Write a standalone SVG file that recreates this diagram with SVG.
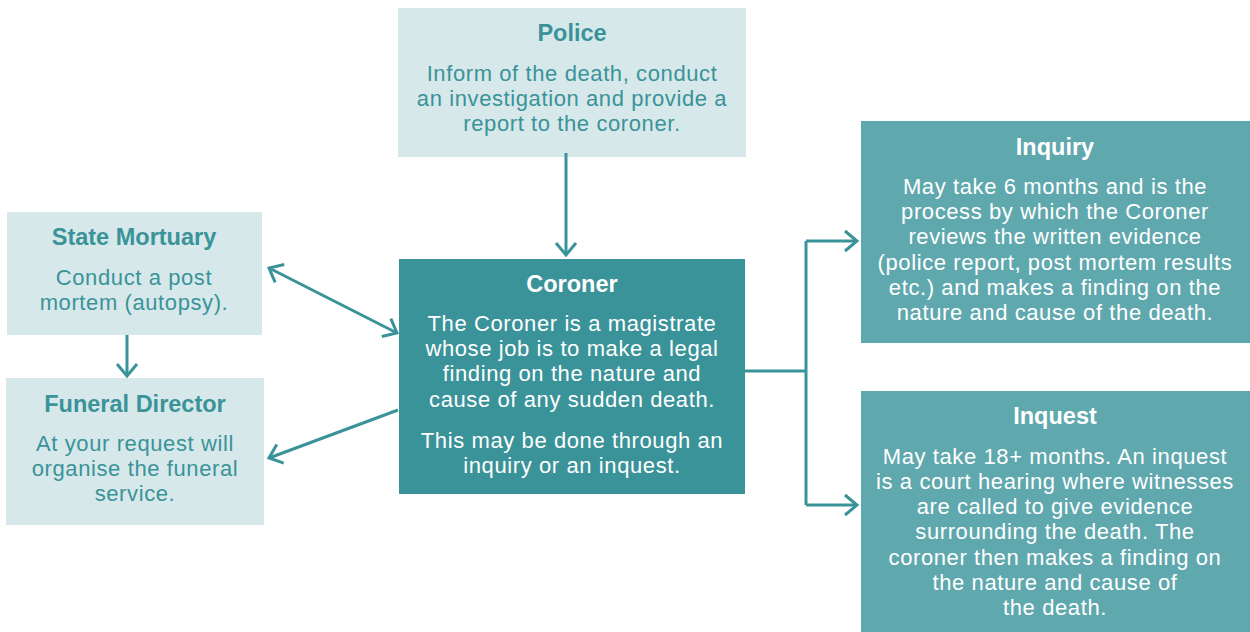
<svg xmlns="http://www.w3.org/2000/svg" width="1250" height="632" viewBox="0 0 1250 632">
<style>
.light{fill:#d6e8ea}
.dark{fill:#3a9399}
.mid{fill:#5fa8ae}
text{font-family:"Liberation Sans",Arial,sans-serif;text-anchor:middle}
.t{font-size:23.5px;font-weight:bold}
.b{font-size:22px;letter-spacing:0.6px}
.lt{fill:#3a9399}
.wt{fill:#ffffff}
.c{fill:none;stroke:#3a9399;stroke-width:3}
</style>
<defs>
<marker id="ah" viewBox="0 0 16 24" refX="14" refY="12" markerWidth="16" markerHeight="24" markerUnits="userSpaceOnUse" orient="auto-start-reverse">
<path d="M2,2 L14,12 L2,22" fill="none" stroke="#3a9399" stroke-width="3"/>
</marker>
</defs>
<g id="police">
<rect class="light" x="398" y="8" width="348" height="149"/>
<text class="t lt" x="572" y="41">Police</text>
<text class="b lt" x="572" y="81">Inform of the death, conduct</text>
<text class="b lt" x="572" y="106">an investigation and provide a</text>
<text class="b lt" x="572" y="131">report to the coroner.</text>
</g>
<g id="mortuary">
<rect class="light" x="7" y="212" width="255" height="123"/>
<text class="t lt" x="134" y="245">State Mortuary</text>
<text class="b lt" x="134" y="285">Conduct a post</text>
<text class="b lt" x="134" y="310">mortem (autopsy).</text>
</g>
<g id="funeral">
<rect class="light" x="6" y="378" width="258" height="147"/>
<text class="t lt" x="135" y="412">Funeral Director</text>
<text class="b lt" x="135" y="451">At your request will</text>
<text class="b lt" x="135" y="476">organise the funeral</text>
<text class="b lt" x="135" y="501">service.</text>
</g>
<g id="coroner">
<rect class="dark" x="399" y="259" width="346" height="235"/>
<text class="t wt" x="572" y="292">Coroner</text>
<text class="b wt" x="572" y="331">The Coroner is a magistrate</text>
<text class="b wt" x="572" y="356">whose job is to make a legal</text>
<text class="b wt" x="572" y="381">finding on the nature and</text>
<text class="b wt" x="572" y="407">cause of any sudden death.</text>
<text class="b wt" x="572" y="448">This may be done through an</text>
<text class="b wt" x="572" y="473">inquiry or an inquest.</text>
</g>
<g id="inquiry">
<rect class="mid" x="861" y="121" width="389" height="222"/>
<text class="t wt" x="1055" y="155">Inquiry</text>
<text class="b wt" x="1055" y="194">May take 6 months and is the</text>
<text class="b wt" x="1055" y="219">process by which the Coroner</text>
<text class="b wt" x="1055" y="244">reviews the written evidence</text>
<text class="b wt" x="1055" y="270">(police report, post mortem results</text>
<text class="b wt" x="1055" y="295">etc.) and makes a finding on the</text>
<text class="b wt" x="1055" y="320">nature and cause of the death.</text>
</g>
<g id="inquest">
<rect class="mid" x="861" y="391" width="389" height="241"/>
<text class="t wt" x="1055" y="424">Inquest</text>
<text class="b wt" x="1055" y="464">May take 18+ months. An inquest</text>
<text class="b wt" x="1055" y="489">is a court hearing where witnesses</text>
<text class="b wt" x="1055" y="514">are called to give evidence</text>
<text class="b wt" x="1055" y="539">surrounding the death. The</text>
<text class="b wt" x="1055" y="565">coroner then makes a finding on</text>
<text class="b wt" x="1055" y="590">the nature and cause of</text>
<text class="b wt" x="1055" y="615">the death.</text>
</g>
<g id="connectors">
<path class="c" d="M566,153 L566,255" marker-end="url(#ah)"/>
<path class="c" d="M269,268 L397,333" marker-start="url(#ah)" marker-end="url(#ah)"/>
<path class="c" d="M127,335 L127,376" marker-end="url(#ah)"/>
<path class="c" d="M398,410 L269,458" marker-end="url(#ah)"/>
<path class="c" d="M745,371 L806,371"/>
<path class="c" d="M806,241 L806,505"/>
<path class="c" d="M806,241 L857,241" marker-end="url(#ah)"/>
<path class="c" d="M806,505 L857,505" marker-end="url(#ah)"/>
</g>
</svg>
